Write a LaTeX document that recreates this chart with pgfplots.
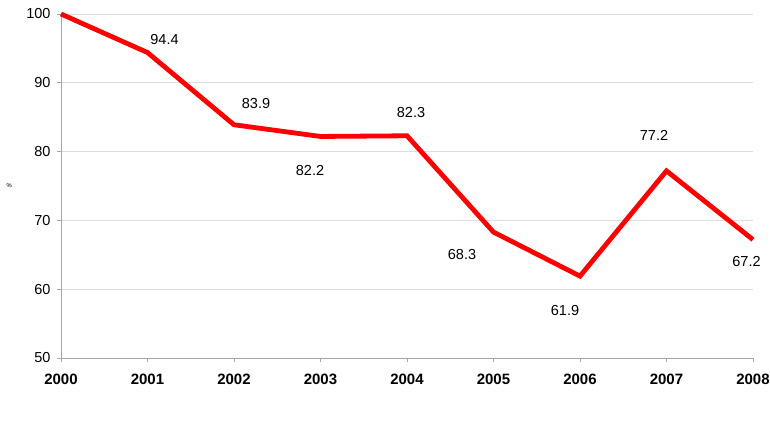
\documentclass[border=0pt]{standalone}
\usepackage{pgfplots}
\pgfplotsset{compat=1.18}
\usepackage{fontspec}
\setmainfont{Liberation Sans}

\definecolor{gridgray}{HTML}{DDDDDD}
\definecolor{axisgray}{HTML}{A6A6A6}
\definecolor{linered}{HTML}{FF0000}

\begin{document}
\begin{tikzpicture}
\path[use as bounding box] (-61pt,-62pt) rectangle (709pt,358pt);
\begin{axis}[
  scale only axis,
  width=692pt, height=344pt,
  xmin=2000, xmax=2008,
  ymin=50, ymax=100,
  xtick={2000,2001,...,2008},
  ytick={50,60,...,100},
  x tick label style={/pgf/number format/1000 sep={}, font=\fontsize{15}{17}\selectfont\bfseries, yshift=-8pt},
  y tick label style={font=\fontsize{14.5}{16}\selectfont, xshift=-3pt},
  /pgf/number format/assume math mode=true,
  axis x line*=bottom,
  axis y line*=left,
  axis line style={axisgray, line width=0.9pt, -},
  tick style={axisgray, line width=0.9pt},
  major tick length=4pt,
  xtick pos=bottom, ytick pos=left,
  tick align=outside,
  ymajorgrids,
  grid style={gridgray, line width=0.7pt},
  ylabel={\%},
  ylabel style={font=\fontsize{6}{7}\selectfont, at={(axis description cs:-0.075,0.5)}, anchor=center, rotate=90},
  clip=false,
]
\addplot[linered, line width=4.8pt, line join=miter, no markers] coordinates {
  (2000,100) (2001,94.4) (2002,83.9) (2003,82.2) (2004,82.3)
  (2005,68.3) (2006,61.9) (2007,77.2) (2008,67.2)
};
\begin{scope}[every node/.style={font=\fontsize{14.5}{16}\selectfont, anchor=center, inner sep=0pt}]
\node[xshift=17pt, yshift=13.5pt]  at (axis cs:2001,94.4) {94.4};
\node[xshift=22pt, yshift=21pt]    at (axis cs:2002,83.9) {83.9};
\node[xshift=-10.5pt, yshift=-34.5pt] at (axis cs:2003,82.2) {82.2};
\node[xshift=4pt, yshift=23pt]     at (axis cs:2004,82.3) {82.3};
\node[xshift=-31.5pt, yshift=-22pt] at (axis cs:2005,68.3) {68.3};
\node[xshift=-15pt, yshift=-34.5pt] at (axis cs:2006,61.9) {61.9};
\node[xshift=-12.5pt, yshift=35.5pt] at (axis cs:2007,77.2) {77.2};
\node[xshift=-6.5pt, yshift=-22pt] at (axis cs:2008,67.2) {67.2};
\end{scope}
\end{axis}
\end{tikzpicture}
\end{document}
